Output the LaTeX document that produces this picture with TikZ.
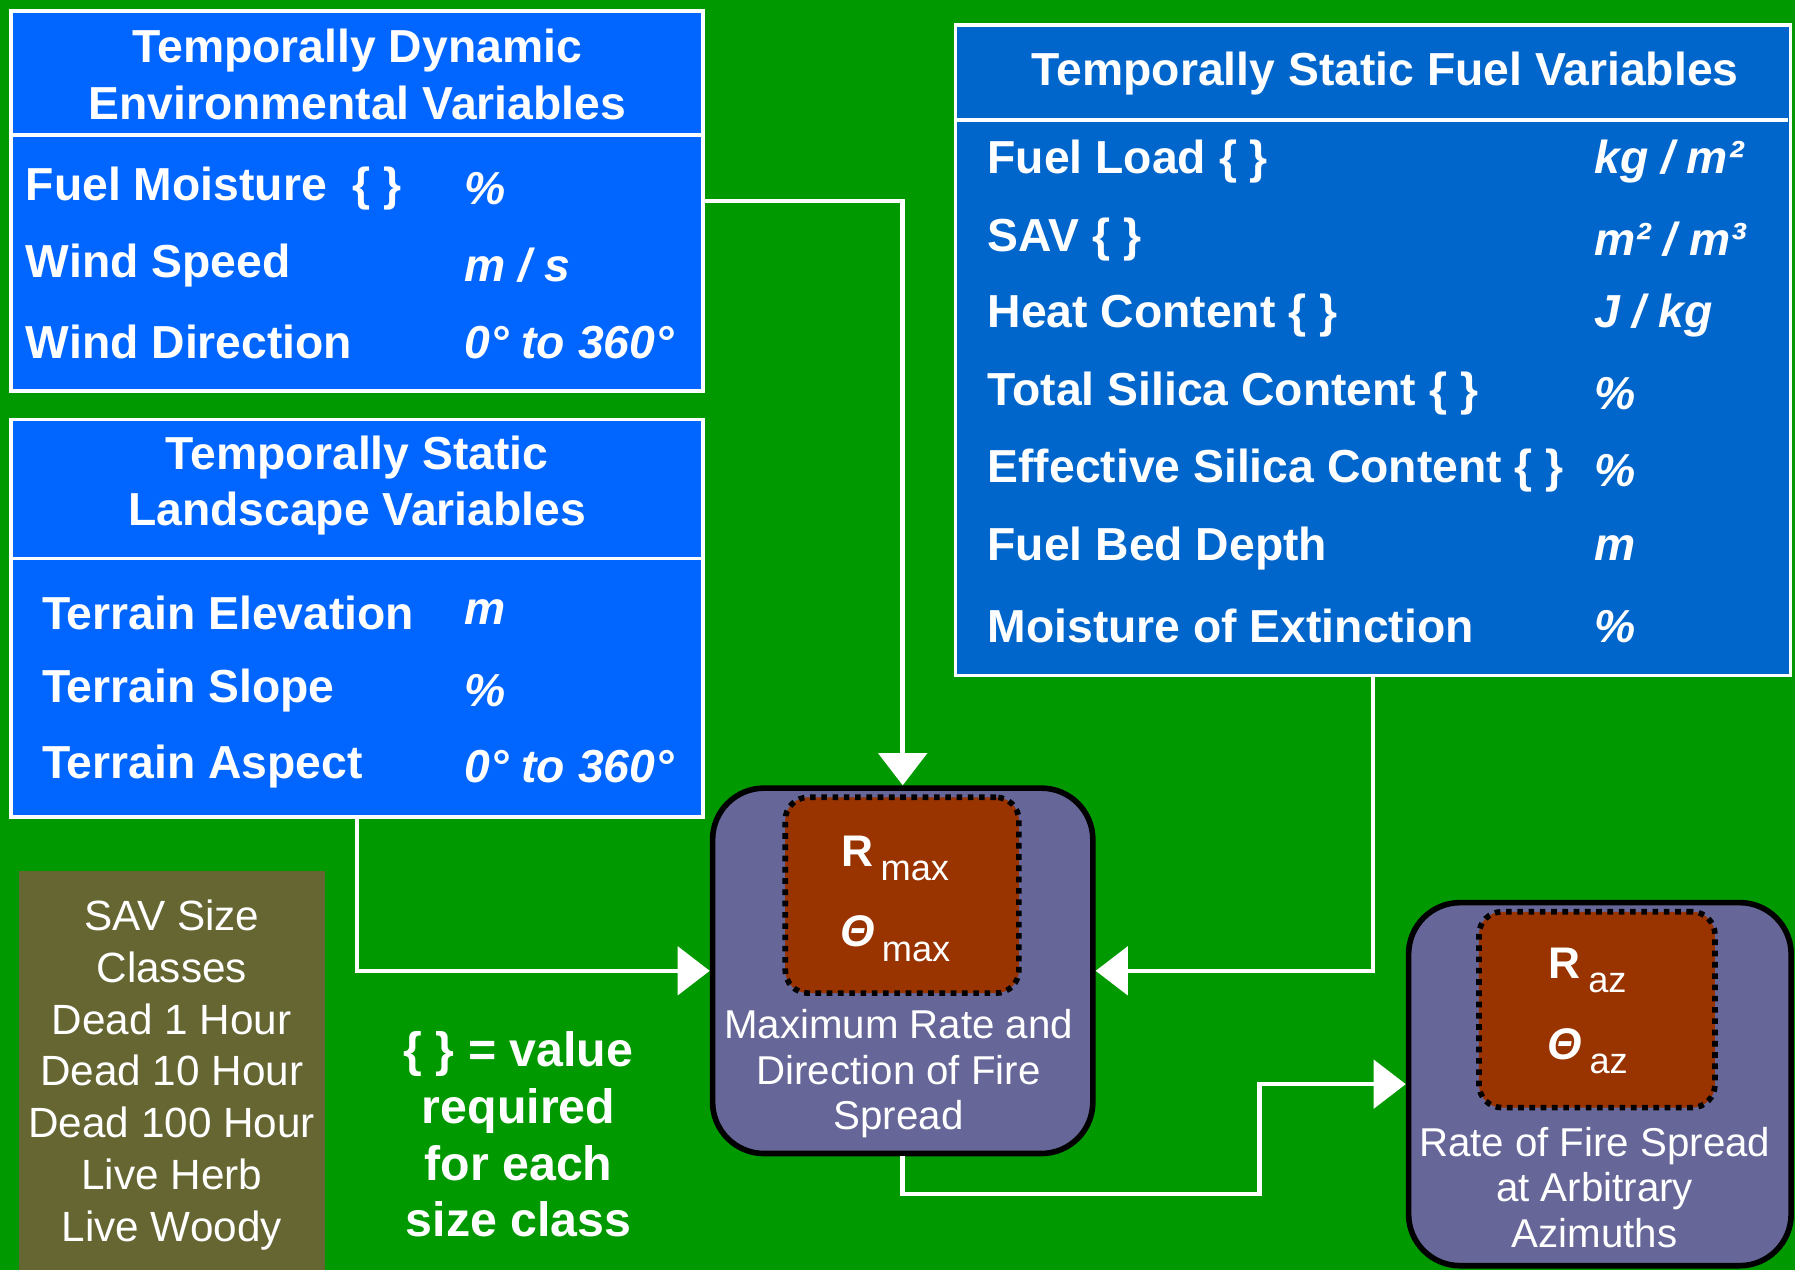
\documentclass[tikz,border=0pt]{standalone}
\usepackage{fontspec}
\setmainfont{Liberation Sans}
\usetikzlibrary{arrows.meta}
\definecolor{bg}{HTML}{009900}
\definecolor{envblue}{HTML}{0066FF}
\definecolor{fuelblue}{HTML}{0066CC}
\definecolor{slate}{HTML}{666699}
\definecolor{rust}{HTML}{993300}
\definecolor{olive}{HTML}{666633}
\newcommand{\lowidx}[1]{\,\raisebox{-0.6ex}{\fontsize{9}{9}\selectfont\mdseries\upshape #1}}
\newcommand{\req}{\{\ \}}
\tikzset{
  panel/.style={draw=white, line width=0.9pt, inner sep=0pt, anchor=north west},
  title/.style={text=white, font=\fontsize{11.5}{14}\selectfont\bfseries, align=center},
  vartext/.style={text=white, font=\fontsize{11.5}{14}\selectfont\bfseries, anchor=west, inner sep=0pt},
  unittext/.style={vartext, font=\fontsize{11.5}{14}\selectfont\bfseries\itshape},
  model/.style={draw=black, line width=1.4pt, fill=slate, rounded corners=0.45cm, inner sep=0pt, anchor=north west},
  core/.style={draw=black, line width=1.4pt, dash pattern=on 1.4pt off 1.4pt, fill=rust, rounded corners=0.2cm, inner sep=0pt},
  symbol/.style={text=white, font=\fontsize{11}{13}\selectfont\bfseries},
  caption/.style={text=white, font=\fontsize{10}{11.3}\selectfont, align=center},
  flow/.style={draw=white, line width=0.04cm, -{Triangle[width=0.42cm,length=0.28cm]}},
}
\begin{document}
\begin{tikzpicture}[x=0.01cm, y=-0.01cm]
\fill[bg] (0,0) rectangle (1568,1109);
\useasboundingbox (0,0) rectangle (1568,1109);

% input panels
\node[panel, fill=envblue, minimum width=6.04cm, minimum height=3.32cm] (env) at (8,8) {};
\draw[white, line width=0.9pt] (8,118) -- (612,118);
\node[title] (envtitle) at (312,65) {Temporally Dynamic\\Environmental Variables};
\foreach \y/\var/\unit [count=\i] in {165/{Fuel Moisture\ \ \req}/\%, 232/{Wind Speed}/{m / s}, 299/{Wind Direction}/{0° to 360°}}{
  \node[vartext] (envvar\i) at (22,\y) {\var};
  \node[unittext] (envunit\i) at (405,\y) {\unit};
}

\node[panel, fill=envblue, minimum width=6.04cm, minimum height=3.47cm] (land) at (8,365) {};
\draw[white, line width=0.9pt] (8,488) -- (612,488);
\node[title] (landtitle) at (312,424) {Temporally Static\\Landscape Variables};
\foreach \y/\var/\unit [count=\i] in {535/{Terrain Elevation}/m, 603/{Terrain Slope}/\%, 670/{Terrain Aspect}/{0° to 360°}}{
  \node[vartext] (landvar\i) at (36,\y) {\var};
  \node[unittext] (landunit\i) at (405,\y) {\unit};
}

\node[panel, fill=fuelblue, minimum width=7.29cm, minimum height=5.68cm] (fuel) at (833,20) {};
\draw[white, line width=0.9pt] (833,105) -- (1562,105);
\node[title] (fueltitle) at (1210,64) {Temporally Static Fuel Variables};
\foreach \y/\var/\unit [count=\i] in {141/{Fuel Load \req}/{kg / m²}, 209/{SAV \req}/{m² / m³}, 276/{Heat Content \req}/{J / kg}, 344/{Total Silica Content \req}/\%, 411/{Effective Silica Content \req}/\%, 479/{Fuel Bed Depth}/m, 547/{Moisture of Extinction}/\%}{
  \node[vartext] (fuelvar\i) at (862,\y) {\var};
  \node[unittext] (fuelunit\i) at (1392,\y) {\unit};
}

% models
\node[model, minimum width=3.32cm, minimum height=3.19cm] (rmax) at (620,686) {};
\node[core, minimum width=2.04cm, minimum height=1.71cm] (rmaxcore) at (788,782) {};
\node[symbol] (rmaxr) at (782,750) {R\lowidx{max}};
\node[symbol] (rmaxt) at (782,820) {\itshape Θ\lowidx{max}};
\node[caption] (rmaxtext) at (785,938) {Maximum Rate and\\Direction of Fire\\Spread};

\node[model, minimum width=3.34cm, minimum height=3.17cm] (raz) at (1228,786) {};
\node[core, minimum width=2.06cm, minimum height=1.71cm] (razcore) at (1395,882) {};
\node[symbol] (razr) at (1387,848) {R\lowidx{az}};
\node[symbol] (razt) at (1387,918) {\itshape Θ\lowidx{az}};
\node[caption] (raztext) at (1393,1037) {Rate of Fire Spread\\at Arbitrary\\Azimuths};

% legend
\node[fill=olive, anchor=north west, inner sep=0pt, minimum width=2.67cm, minimum height=3.49cm] (sizes) at (16,760) {};
\node[caption, font=\fontsize{10.5}{12.85}\selectfont] (sizetext) at (150,939) {SAV Size\\Classes\\Dead 1 Hour\\Dead 10 Hour\\Dead 100 Hour\\Live Herb\\Live Woody};
\node[title, font=\fontsize{12}{14.1}\selectfont\bfseries] (note) at (453,991) {\req{} = value\\required\\for each\\size class};

% connectors
\draw[flow] (env.east) -| (rmax.north);
\draw[flow] (land.south) |- (rmax.west);
\draw[flow] (fuel.south) |- (rmax.east);
\coordinate (jog) at (1100,1043);
\draw[flow] (rmax.south) |- (jog) |- (raz.west);
\end{tikzpicture}
\end{document}
